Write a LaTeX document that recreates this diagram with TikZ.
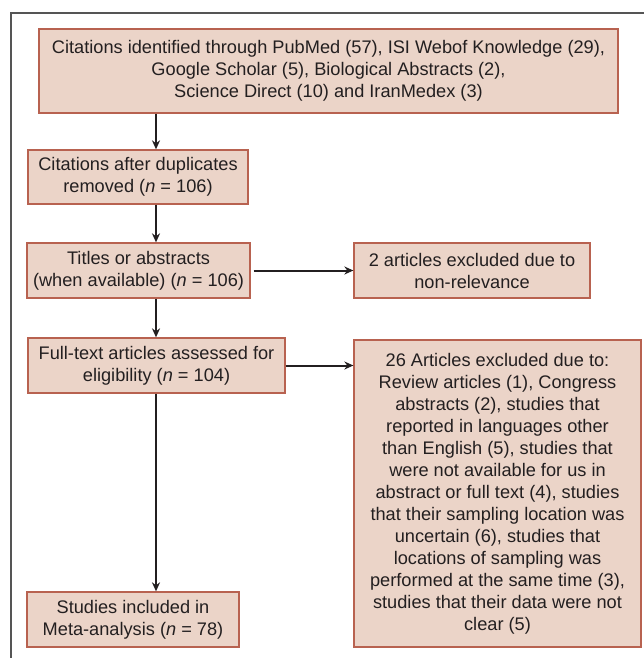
\documentclass[tikz,border=0pt]{standalone}
\usepackage{fontspec}
\setmainfont{Liberation Sans}
\usetikzlibrary{arrows.meta}
\definecolor{boxfill}{RGB}{235,212,200}
\definecolor{boxline}{RGB}{184,98,80}
\definecolor{txt}{RGB}{35,31,32}
\definecolor{frame}{RGB}{85,85,85}
\tikzset{
  flowbox/.style={draw=boxline, line width=1.3pt, fill=boxfill, text=txt,
    align=center, inner sep=2pt, font=\fontsize{18.2}{22}\selectfont},
  flowarrow/.style={draw=txt, line width=2pt, -{Stealth[length=9pt,width=8pt]}}
}
\newcommand{\nn}{\textit{n}}
\begin{document}
\begin{tikzpicture}[x=1pt,y=-1pt]
\useasboundingbox (0,0) rectangle (644,658);
\draw[frame, line width=1.4pt] (644,13) -- (11,13) -- (11,658);
\coordinate (spine) at (156,0);
\node[flowbox, minimum width=579pt, minimum height=84pt] (src) at (328.5,71)
  {Citations identified through PubMed (57), ISI Webof Knowledge (29),\\
   Google Scholar (5), Biological Abstracts (2),\\
   Science Direct (10) and IranMedex (3)};
\node[flowbox, minimum width=220pt, minimum height=54pt] (dup) at (138,177)
  {Citations after duplicates\\ removed (\nn{} = 106)};
\node[flowbox, minimum width=223pt, minimum height=55pt] (tit) at (138.5,270.5)
  {Titles or abstracts\\ (when available) (\nn{} = 106)};
\node[flowbox, minimum width=236pt, minimum height=55pt] (ex1) at (472,270.5)
  {2 articles excluded due to\\ non-relevance};
\node[flowbox, minimum width=257pt, minimum height=55pt] (full) at (156.5,365.5)
  {Full-text articles assessed for\\ eligibility (\nn{} = 104)};
\node[flowbox, minimum width=287pt, minimum height=307pt] (ex2) at (497.5,493.5)
  {26 Articles excluded due to:\\
   Review articles (1), Congress\\
   abstracts (2), studies that\\
   reported in languages other\\
   than English (5), studies that\\
   were not available for us in\\
   abstract or full text (4), studies\\
   that their sampling location was\\
   uncertain (6), studies that\\
   locations of sampling was\\
   performed at the same time (3),\\
   studies that their data were not\\
   clear (5)};
\node[flowbox, minimum width=212pt, minimum height=55pt] (inc) at (133,619.5)
  {Studies included in\\ Meta-analysis (\nn{} = 78)};
\draw[flowarrow] (src.south -| spine) -- (dup.north -| spine);
\draw[flowarrow] (dup.south -| spine) -- (tit.north -| spine);
\draw[flowarrow] (tit.south -| spine) -- (full.north -| spine);
\draw[flowarrow] (full.south -| spine) -- (inc.north -| spine);
\draw[flowarrow] ([xshift=3pt]tit.east) -- (ex1.west);
\draw[flowarrow] (full.east) -- (ex2.west |- full.east);
\end{tikzpicture}
\end{document}
